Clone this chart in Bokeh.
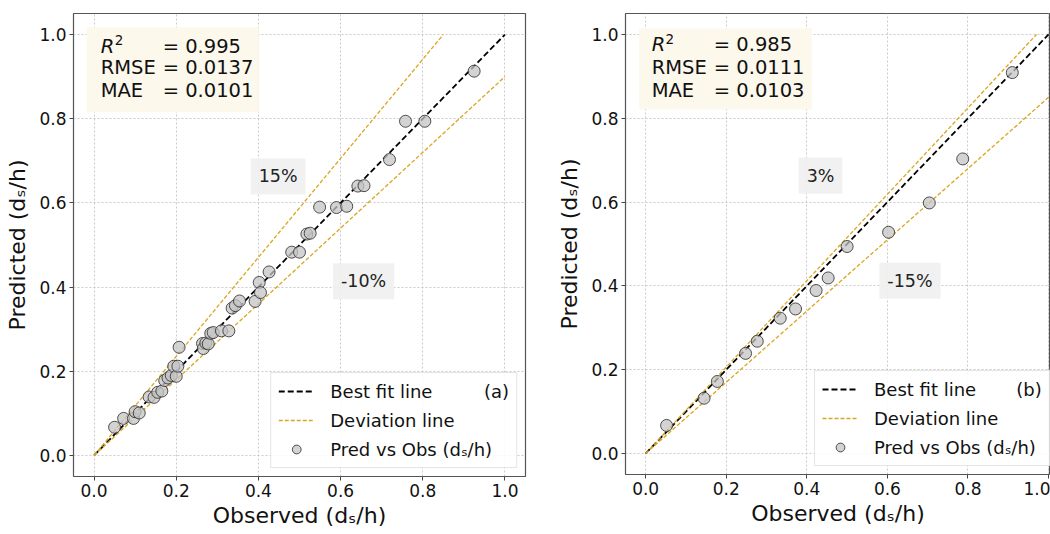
from bokeh.plotting import figure
from bokeh.models import (Range1d, Label, BoxAnnotation, FixedTicker,
                          PrintfTickFormatter, Legend, LegendItem)
from bokeh.layouts import row
from bokeh.embed import file_html
from bokeh.resources import INLINE

# ---------------- data ----------------
obs_a = [0.050, 0.072, 0.096, 0.100, 0.110, 0.134, 0.146, 0.155, 0.165, 0.172,
         0.180, 0.188, 0.194, 0.200, 0.204, 0.207, 0.264, 0.266, 0.272, 0.278,
         0.284, 0.290, 0.310, 0.328, 0.336, 0.344, 0.354, 0.392, 0.402, 0.405,
         0.426, 0.481, 0.500, 0.518, 0.526, 0.549, 0.590, 0.615, 0.642, 0.657,
         0.719, 0.758, 0.805, 0.925]
pred_a = [0.067, 0.088, 0.088, 0.104, 0.101, 0.139, 0.138, 0.150, 0.153, 0.178,
          0.184, 0.190, 0.212, 0.188, 0.212, 0.257, 0.266, 0.254, 0.267, 0.265,
          0.290, 0.292, 0.296, 0.296, 0.350, 0.356, 0.367, 0.366, 0.411, 0.387,
          0.436, 0.483, 0.483, 0.526, 0.528, 0.590, 0.589, 0.592, 0.640, 0.641,
          0.703, 0.794, 0.794, 0.913]

obs_b = [0.052, 0.145, 0.178, 0.248, 0.277, 0.334, 0.372, 0.423, 0.453, 0.500,
         0.603, 0.704, 0.787, 0.910]
pred_b = [0.067, 0.132, 0.172, 0.239, 0.268, 0.323, 0.345, 0.389, 0.419, 0.494,
          0.528, 0.598, 0.703, 0.909]

fit_x = [0.0, 1.0]
fit_y = [0.0, 1.0]
dev_a_up_x, dev_a_up_y = [0.0, 0.85], [0.0, 1.0]
dev_a_lo_x, dev_a_lo_y = [0.0, 1.0], [0.0, 0.90]
dev_b_up_x, dev_b_up_y = [0.0, 0.97], [0.0, 1.0]
dev_b_lo_x, dev_b_lo_y = [0.0, 1.0], [0.0, 0.85]

tick_values = [0.0, 0.2, 0.4, 0.6, 0.8, 1.0]
stat_names = ["RMSE", "MAE"]
stats_a = ["= 0.995", "= 0.0137", "= 0.0101"]
stats_b = ["= 0.985", "= 0.0111", "= 0.0103"]
dev_labels_a = ["15%", "-10%"]
dev_labels_b = ["3%", "-15%"]
panel_tags = ["(a)", "(b)"]

FONT = "DejaVu Sans"
GOLD = "#DAA520"
NBSP = "\u00a0"


def make_panel(obs, pred, dev_up, dev_lo, stats, dev_labels, tag, n_gap,
               frame_w, frame_h, mb_left, mb_right, mb_top, x_end,
               stat_x, eq_x, stat_ys, box, lab_pos, leg_loc, leg_margin):
    p = figure(frame_width=frame_w, frame_height=frame_h, output_backend="svg",
               toolbar_location=None,
               x_range=Range1d(-0.05, x_end), y_range=Range1d(-0.05, 1.05),
               min_border_left=mb_left, min_border_right=mb_right,
               min_border_top=mb_top, min_border_bottom=50)
    p.outline_line_color = "#555555"
    p.outline_line_width = 1.2
    for ax in (p.xaxis[0], p.yaxis[0]):
        ax.ticker = FixedTicker(ticks=tick_values)
        ax.formatter = PrintfTickFormatter(format="%.1f")
        ax.axis_line_color = None
        ax.major_tick_out = 4
        ax.major_tick_in = 0
        ax.minor_tick_out = 0
        ax.minor_tick_in = 0
        ax.major_tick_line_color = "#444444"
        ax.major_label_text_font = FONT
        ax.major_label_text_font_size = "17px"
        ax.major_label_text_color = "#111111"
        ax.major_label_standoff = 3
        ax.axis_label_text_font = FONT
        ax.axis_label_text_font_size = "22px"
        ax.axis_label_text_font_style = "normal"
        ax.axis_label_text_color = "#111111"
        ax.axis_label_standoff = 3
    p.xaxis[0].axis_label = "Observed (d\u209b/h)"
    p.yaxis[0].axis_label = "Predicted (d\u209b/h)"
    p.yaxis[0].axis_label_standoff = 6
    p.grid.grid_line_color = "#bdbdbd"
    p.grid.grid_line_dash = "2 2"
    p.grid.grid_line_width = 0.8

    # stats box
    p.add_layout(BoxAnnotation(left=box[0], right=box[1], bottom=box[2], top=box[3],
                               fill_color="#fdf8ec", fill_alpha=1.0, line_color=None))
    p.add_layout(Label(x=stat_x, y=stat_ys[0], text="R", text_font=FONT,
                       text_font_size="19.5px", text_font_style="italic",
                       text_baseline="middle", text_color="#111111"))
    p.add_layout(Label(x=stat_x + 0.034, y=stat_ys[0] + 0.014, text="2", text_font=FONT,
                       text_font_size="13.5px", text_baseline="middle", text_color="#111111"))
    for name, yy in zip(stat_names, stat_ys[1:]):
        p.add_layout(Label(x=stat_x, y=yy, text=name, text_font=FONT,
                           text_font_size="19.5px", text_baseline="middle",
                           text_color="#111111"))
    for s, yy in zip(stats, stat_ys):
        p.add_layout(Label(x=eq_x, y=yy, text=s, text_font=FONT,
                           text_font_size="19.5px", text_baseline="middle",
                           text_color="#111111"))

    # deviation percentage labels
    for txt, (lx, ly) in zip(dev_labels, lab_pos):
        p.add_layout(Label(x=lx, y=ly, text=txt, text_font=FONT,
                           text_font_size="17.5px", text_align="center",
                           text_baseline="middle", text_color="#222222",
                           background_fill_color="#efefef", background_fill_alpha=0.9,
                           padding=8))

    r_fit = p.line(fit_x, fit_y, line_color="black", line_width=1.8, line_dash="6 3")
    r_dev = p.line(dev_up[0], dev_up[1], line_color=GOLD, line_width=1.3, line_dash="4 2")
    p.line(dev_lo[0], dev_lo[1], line_color=GOLD, line_width=1.3, line_dash="4 2")
    r_pts = p.scatter(obs, pred, size=12, fill_color="#c4c4c4", fill_alpha=0.75,
                      line_color="#333333", line_alpha=0.85, line_width=1)

    first_label = "Best fit line" + NBSP * n_gap + tag
    legend = Legend(items=[LegendItem(label=first_label, renderers=[r_fit]),
                           LegendItem(label="Deviation line", renderers=[r_dev]),
                           LegendItem(label="Pred vs Obs (d\u209b/h)", renderers=[r_pts])],
                    location=leg_loc, margin=leg_margin, padding=7, spacing=7,
                    glyph_width=36, glyph_height=22, label_height=22,
                    label_standoff=16, label_text_font=FONT,
                    label_text_font_size="18px", label_text_color="#111111",
                    border_line_color="#cccccc", border_line_width=1,
                    background_fill_alpha=0.85)
    p.add_layout(legend)
    return p


p1 = make_panel(obs_a, pred_a, (dev_a_up_x, dev_a_up_y), (dev_a_lo_x, dev_a_lo_y),
                stats_a, dev_labels_a, panel_tags[0], 9,
                frame_w=452, frame_h=463, mb_left=73, mb_right=13, mb_top=9, x_end=1.05,
                stat_x=0.0162, eq_x=0.167, stat_ys=[0.9725, 0.922, 0.868],
                box=(-0.018, 0.401, 0.816, 1.0175),
                lab_pos=[(0.448, 0.663), (0.656, 0.414)],
                leg_loc="bottom_right", leg_margin=8)

p2 = make_panel(obs_b, pred_b, (dev_b_up_x, dev_b_up_y), (dev_b_lo_x, dev_b_lo_y),
                stats_b, dev_labels_b, panel_tags[1], 7,
                frame_w=425, frame_h=461, mb_left=87, mb_right=0, mb_top=13, x_end=1.0048,
                stat_x=0.015, eq_x=0.169, stat_ys=[0.976, 0.920, 0.867],
                box=(-0.016, 0.4125, 0.821, 1.015),
                lab_pos=[(0.434, 0.663), (0.656, 0.4125)],
                leg_loc=(189, 8), leg_margin=0)

layout = row(p1, p2)
open("out.html", "w").write(file_html(layout, INLINE))
